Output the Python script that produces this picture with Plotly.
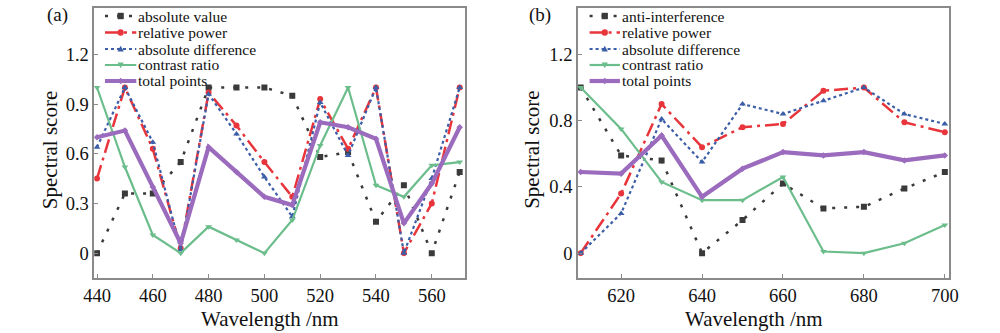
import plotly.graph_objects as go

# ---- data: panel (a) ----
wl_a = [440, 450, 460, 470, 480, 490, 500, 510, 520, 530, 540, 550, 560, 570]
abs_value = [0.0, 0.36, 0.36, 0.55, 1.0, 1.0, 1.0, 0.95, 0.58, 0.61, 0.19, 0.41, 0.0, 0.49]
rel_power_a = [0.45, 1.0, 0.63, 0.03, 0.97, 0.77, 0.55, 0.34, 0.93, 0.63, 1.0, 0.0, 0.3, 1.0]
abs_diff_a = [0.64, 1.0, 0.67, 0.02, 0.96, 0.72, 0.46, 0.22, 0.91, 0.59, 1.0, 0.0, 0.45, 1.0]
contrast_a = [1.0, 0.52, 0.11, 0.0, 0.16, 0.08, 0.0, 0.2, 0.65, 1.0, 0.41, 0.34, 0.53, 0.55]
total_a = [0.7, 0.74, 0.4, 0.06, 0.64, 0.49, 0.34, 0.29, 0.79, 0.76, 0.69, 0.18, 0.42, 0.76]
names_a = ["absolute value", "relative power", "absolute difference", "contrast ratio", "total points"]

# ---- data: panel (b) ----
wl_b = [610, 620, 630, 640, 650, 660, 670, 680, 690, 700]
anti_interf = [1.0, 0.59, 0.56, 0.0, 0.2, 0.42, 0.27, 0.28, 0.39, 0.49]
rel_power_b = [0.0, 0.36, 0.9, 0.64, 0.76, 0.78, 0.98, 1.0, 0.79, 0.73]
abs_diff_b = [0.0, 0.24, 0.81, 0.55, 0.9, 0.84, 0.92, 1.0, 0.84, 0.78]
contrast_b = [1.0, 0.75, 0.43, 0.32, 0.32, 0.46, 0.01, 0.0, 0.06, 0.17]
total_b = [0.49, 0.48, 0.71, 0.34, 0.51, 0.61, 0.59, 0.61, 0.56, 0.59]
names_b = ["anti-interference", "relative power", "absolute difference", "contrast ratio", "total points"]

yticks_a = [0, 0.3, 0.6, 0.9, 1.2]
yticks_b = [0, 0.4, 0.8, 1.2]
xticks_a = [440, 460, 480, 500, 520, 540, 560]
xticks_b = [620, 640, 660, 680, 700]

FONT = "Liberation Serif"
BLACK = "#3a3a3a"
RED = "#e8353b"
BLUE = "#3c5ea8"
GREEN = "#6cbd8c"
PURPLE = "#9b6bbd"

styles = [
    dict(color=BLACK, dash="3px,9px", width=2.5, symbol="square", msize=6),
    dict(color=RED, dash="14px,5px,3px,5px", width=2.5, symbol="circle", msize=6),
    dict(color=BLUE, dash="dot", width=2.2, symbol="triangle-up", msize=6),
    dict(color=GREEN, dash="solid", width=2.2, symbol="triangle-down", msize=6),
    dict(color=PURPLE, dash="solid", width=4.2, symbol="diamond", msize=5),
]

W, H = 1000, 333
fig = go.Figure()


def add_panel(x, series, names, xa, ya):
    for s, nm, st in zip(series, names, styles):
        fig.add_trace(go.Scatter(
            x=x, y=s, name=nm, mode="lines+markers", showlegend=False,
            line=dict(color=st["color"], dash=st["dash"], width=st["width"]),
            marker=dict(symbol=st["symbol"], size=st["msize"], color=st["color"]),
            xaxis=xa, yaxis=ya,
        ))


add_panel(wl_a, [abs_value, rel_power_a, abs_diff_a, contrast_a, total_a], names_a, "x", "y")
add_panel(wl_b, [anti_interf, rel_power_b, abs_diff_b, contrast_b, total_b], names_b, "x2", "y2")

axis_common = dict(showline=True, mirror=True, linecolor="#8a8a8a", linewidth=1.5,
                   ticks="inside", ticklen=4, tickcolor="#8a8a8a", showgrid=False,
                   zeroline=False, tickfont=dict(family=FONT, size=18.5, color="#111"))

fig.update_layout(
    width=W, height=H,
    margin=dict(l=0, r=0, t=0, b=0),
    paper_bgcolor="white", plot_bgcolor="white",
    font=dict(family=FONT, color="#111"),
    showlegend=False,
    xaxis=dict(domain=[85 / W, 464 / W], range=[439, 572], tickvals=xticks_a, anchor="y", **axis_common),
    yaxis=dict(domain=[1 - 278 / H, 1 - 8 / H], range=[-0.15, 1.48], tickvals=yticks_a, anchor="x", **axis_common),
    xaxis2=dict(domain=[579 / W, 958 / W], range=[609.3, 701], tickvals=xticks_b, anchor="y2", **axis_common),
    yaxis2=dict(domain=[1 - 278 / H, 1 - 8 / H], range=[-0.15, 1.48], tickvals=yticks_b, anchor="x2", **axis_common),
)


def px(x):
    return x / W


def py(y):
    return 1 - y / H


ann = []
shapes = []


def marker_shape(sym, cx, cy, color, r=3.2):
    if sym == "square":
        return dict(type="rect", xref="paper", yref="paper", x0=px(cx - r), x1=px(cx + r),
                    y0=py(cy + r), y1=py(cy - r), fillcolor=color, line=dict(width=0))
    if sym == "circle":
        return dict(type="circle", xref="paper", yref="paper", x0=px(cx - r), x1=px(cx + r),
                    y0=py(cy + r), y1=py(cy - r), fillcolor=color, line=dict(width=0))
    if sym == "triangle-up":
        pts = [(cx, cy - r), (cx - r, cy + r * 0.8), (cx + r, cy + r * 0.8)]
    elif sym == "triangle-down":
        pts = [(cx, cy + r), (cx - r, cy - r * 0.8), (cx + r, cy - r * 0.8)]
    else:  # diamond
        pts = [(cx, cy - r), (cx + r, cy), (cx, cy + r), (cx - r, cy)]
    path = "M " + " L ".join(f"{px(a):.5f},{py(b):.5f}" for a, b in pts) + " Z"
    return dict(type="path", xref="paper", yref="paper", path=path, fillcolor=color, line=dict(width=0))


def add_legend(names, x0, x1, xt, rows):
    for nm, st, yy in zip(names, styles, rows):
        shapes.append(dict(type="line", xref="paper", yref="paper", x0=px(x0), x1=px(x1),
                           y0=py(yy), y1=py(yy),
                           line=dict(color=st["color"], width=st["width"], dash=st["dash"])))
        shapes.append(marker_shape(st["symbol"], (x0 + x1) / 2, yy, st["color"]))
        ann.append(dict(x=px(xt), y=py(yy), xref="paper", yref="paper", text=nm, showarrow=False,
                        xanchor="left", yanchor="middle", borderpad=0,
                        font=dict(family=FONT, size=15.5, color="#111")))


rows = [16, 32.5, 49, 65, 81]
add_legend(names_a, 96, 128, 129, rows)
add_legend(names_b, 591, 622, 623, rows)

for x, t in [(35, "(a)"), (527, "(b)")]:
    ann.append(dict(x=px(x), y=py(15), xref="paper", yref="paper", text=t, showarrow=False,
                    xanchor="left", yanchor="middle", font=dict(family=FONT, size=19, color="#111")))
for x in [(85 + 464) / 2 - 10, (579 + 958) / 2 - 10]:
    ann.append(dict(x=px(x), y=py(319), xref="paper", yref="paper", text="Wavelength /nm", showarrow=False,
                    xanchor="center", yanchor="middle", borderpad=0,
                    font=dict(family=FONT, size=21, color="#111")))
for x in [40, 532]:
    ann.append(dict(x=px(x), y=py(150), xref="paper", yref="paper", text="Spectral score", showarrow=False,
                    textangle=-90, xanchor="center", yanchor="middle", font=dict(family=FONT, size=21, color="#111")))
fig.update_layout(annotations=ann, shapes=shapes)

fig.write_html("out.html", config={"displayModeBar": False},
               post_script="document.body.style.margin='0';document.body.style.overflow='hidden';")
